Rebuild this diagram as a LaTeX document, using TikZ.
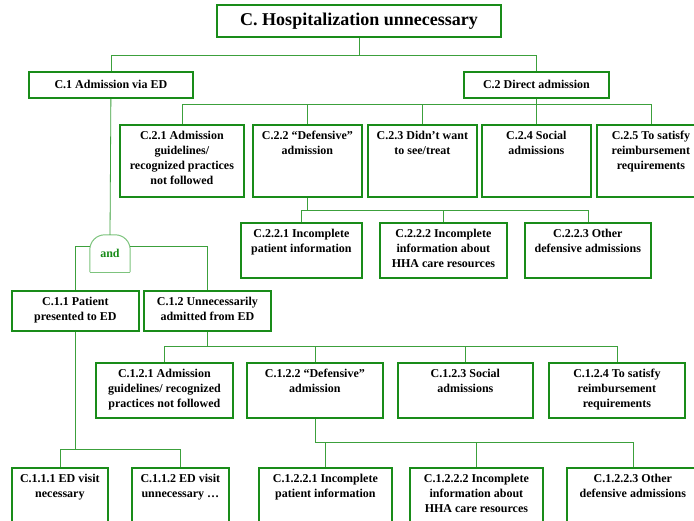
\documentclass[tikz,border=0pt]{standalone}
\usepackage{fontspec}
\setmainfont{Liberation Serif}
\usetikzlibrary{positioning}

\definecolor{boxgreen}{RGB}{25,140,25}
\definecolor{linkgreen}{RGB}{60,160,60}
\definecolor{gategreen}{RGB}{125,195,125}

% text of a box, set at its top
\newcommand{\celltext}[3]{\parbox[c][#2pt][t]{#1pt}{\centering\vspace*{6.5pt}#3}}

\begin{document}
\begin{tikzpicture} [x=1pt, y=-1pt,
            cell/.style = {draw=boxgreen, line width=1.8pt, inner sep=0pt,
                anchor=north west, font=\fontsize{12}{15}\selectfont\bfseries},
            link/.style = {draw=linkgreen, line width=0.8pt},
            gateline/.style = {draw=gategreen, line width=1pt}]

        \useasboundingbox (0,0) rectangle (694,521);
        \clip (0,0) rectangle (694,521);

        % Top event
        \node (top) [cell,
            line width=2pt,
            minimum width=284pt, minimum height=32pt,
            font=\fontsize{18}{20}\selectfont\bfseries] at (216,4)
            {C. Hospitalization unnecessary};

        % C.1 and C.2
        \node (c1) [cell, minimum width=164pt, minimum height=26pt] at (28,71)
            {C.1 Admission via ED};
        \node (c2) [cell, minimum width=145pt, minimum height=26pt] at (463,71)
            {C.2 Direct admission};

        % Children of C.2
        \node (c21) [cell] at (119,124) {\celltext{124}{72}{C.2.1 Admission\\ guidelines/\\ recognized practices\\ not followed}};
        \node (c22) [cell] at (252,124) {\celltext{109}{72}{C.2.2 ``Defensive''\\ admission}};
        \node (c23) [cell] at (367,124) {\celltext{109}{72}{C.2.3 Didn't want\\ to see/treat}};
        \node (c24) [cell] at (481,124) {\celltext{109}{72}{C.2.4 Social\\ admissions}};
        \node (c25) [cell] at (596,124) {\celltext{108}{72}{C.2.5 To satisfy\\ reimbursement\\ requirements}};

        % Children of C.2.2
        \node (c221) [cell] at (240,222) {\celltext{121}{55}{C.2.2.1 Incomplete\\ patient information}};
        \node (c222) [cell] at (379,222) {\celltext{127}{55}{C.2.2.2 Incomplete\\ information about\\ HHA care resources}};
        \node (c223) [cell] at (524,222) {\celltext{126}{55}{C.2.2.3 Other\\ defensive admissions}};

        % AND gate
        \node (gate) [minimum width=40pt, minimum height=37pt, inner sep=0pt,
            text=boxgreen, font=\fontsize{12}{14}\selectfont\bfseries] at (110,253.5) {and};
        \draw [gateline, rounded corners=15pt]
            (gate.south west) -- (gate.north west) -- (gate.north east) -- (gate.south east);
        \draw [gateline] (gate.south west) -- (gate.south east);

        % Children of C.1
        \node (c11) [cell] at (11,290) {\celltext{127}{40}{C.1.1 Patient\\ presented to ED}};
        \node (c12) [cell] at (143,290) {\celltext{127}{40}{C.1.2 Unnecessarily\\ admitted from ED}};

        % Children of C.1.2
        \node (c121) [cell] at (95,362) {\celltext{137}{55}{C.1.2.1 Admission\\ guidelines/ recognized\\ practices not followed}};
        \node (c122) [cell] at (246,362) {\celltext{136}{55}{C.1.2.2 ``Defensive''\\ admission}};
        \node (c123) [cell] at (397,362) {\celltext{135}{55}{C.1.2.3 Social\\ admissions}};
        \node (c124) [cell] at (548,362) {\celltext{136}{55}{C.1.2.4 To satisfy\\ reimbursement\\ requirements}};

        % Children of C.1.1
        \node (c111) [cell] at (11,467) {\celltext{96}{65}{C.1.1.1 ED visit\\ necessary}};
        \node (c112) [cell] at (131,467) {\celltext{97}{65}{C.1.1.2 ED visit\\ unnecessary \dots}};

        % Children of C.1.2.2
        \node (c1221) [cell] at (258,467) {\celltext{133}{65}{C.1.2.2.1 Incomplete\\ patient information}};
        \node (c1222) [cell] at (409,467) {\celltext{133}{65}{C.1.2.2.2 Incomplete\\ information about\\ HHA care resources}};
        \node (c1223) [cell] at (566,467) {\celltext{132}{65}{C.1.2.2.3 Other\\ defensive admissions}};

        % Connectors
        \foreach \k in {c1, c2}
            \draw [link] (top.south) -- ++(0,17) -| (\k.north);
        \foreach \k in {c21, c22, c23, c24, c25}
            \draw [link] (c2.south) -- ++(0,6) -| (\k.north);
        \foreach \k in {c221, c222, c223}
            \draw [link] (c22.south) -- ++(0,13) -| (\k.north);
        \draw [link] (c1.south) -- (gate.north);
        \draw [link] ([yshift=-12pt]gate.north west) -| (c11.north);
        \draw [link] ([yshift=-12pt]gate.north east) -| (c12.north);
        \foreach \k in {c121, c122, c123, c124}
            \draw [link] (c12.south) -- ++(0,15) -| (\k.north);
        \foreach \k in {c111, c112}
            \draw [link] (c11.south) -- ++(0,118) -| (\k.north);
        \foreach \k in {c1221, c1222, c1223}
            \draw [link] (c122.south) -- ++(0,24) -| (\k.north);
\end{tikzpicture}
\end{document}
